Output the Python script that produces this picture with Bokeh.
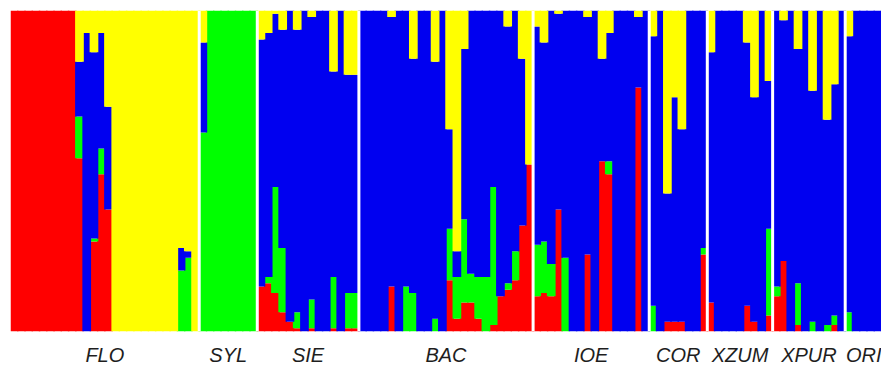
from bokeh.plotting import figure
from bokeh.models import Range1d, FixedTicker, ColumnDataSource
from bokeh.embed import file_html
from bokeh.resources import INLINE

# Populations and number of individuals in each
groups = ["FLO", "SYL", "SIE", "BAC", "IOE", "COR", "XZUM", "XPUR", "ORI"]
group_sizes = [26, 8, 14, 24, 16, 8, 9, 10, 6]

# Membership coefficients of each individual (clusters: red, green, blue, yellow)
red = [
    # FLO
    1, 1, 1, 1, 1, 1, 1, 1, 1, 0.54, 0, 0.28, 0.49, 0.38, 0, 0, 0, 0, 0, 0, 0, 0, 0, 0, 0, 0,
    # SYL
    0, 0, 0, 0, 0, 0, 0, 0,
    # SIE
    0.14, 0.15, 0.12, 0.06, 0.03, 0.01, 0, 0.01, 0, 0, 0.01, 0, 0.01, 0.01,
    # BAC
    0, 0, 0, 0, 0.14, 0, 0, 0, 0, 0, 0, 0, 0.16, 0.04, 0.09, 0.09, 0.04, 0, 0.02, 0.11, 0.13, 0.16, 0.33, 0.52,
    # IOE
    0.11, 0.12, 0.11, 0.38, 0, 0, 0, 0.24, 0, 0.53, 0.49, 0, 0, 0, 0.76, 0,
    # COR
    0, 0, 0.03, 0.03, 0.03, 0, 0, 0.24,
    # XZUM
    0.09, 0, 0, 0, 0, 0.08, 0.03, 0, 0.05,
    # XPUR
    0.11, 0.22, 0, 0.02, 0, 0, 0, 0, 0.02, 0,
    # ORI
    0, 0, 0, 0, 0, 0,
]
green = [
    # FLO
    0, 0, 0, 0, 0, 0, 0, 0, 0, 0.13, 0, 0.01, 0.08, 0, 0, 0, 0, 0, 0, 0, 0, 0, 0, 0.19, 0.23, 0,
    # SYL
    0.62, 1, 1, 1, 1, 1, 1, 1,
    # SIE
    0, 0.02, 0.33, 0.20, 0, 0.05, 0, 0.09, 0, 0, 0.16, 0, 0.11, 0.11,
    # BAC
    0, 0, 0, 0, 0, 0, 0.14, 0.12, 0, 0, 0.04, 0, 0.16, 0.13, 0.26, 0.09, 0.13, 0.17, 0.43, 0, 0.02, 0.09, 0, 0,
    # IOE
    0.16, 0.16, 0.10, 0, 0.23, 0, 0, 0, 0, 0, 0.04, 0, 0, 0, 0, 0,
    # COR
    0.08, 0, 0, 0, 0, 0, 0, 0.02,
    # XZUM
    0, 0, 0, 0, 0, 0, 0, 0, 0.27,
    # XPUR
    0.03, 0, 0, 0.13, 0, 0.03, 0, 0.02, 0.03, 0,
    # ORI
    0.06, 0, 0, 0, 0, 0,
]
blue = [
    # FLO
    0, 0, 0, 0, 0, 0, 0, 0, 0, 0.17, 0.93, 0.58, 0.36, 0.32, 0, 0, 0, 0, 0, 0, 0, 0, 0, 0.07, 0.02, 0,
    # SYL
    0.28, 0, 0, 0, 0, 0, 0, 0,
    # SIE
    0.77, 0.76, 0.54, 0.68, 0.97, 0.88, 1, 0.88, 1, 1, 0.64, 1, 0.68, 0.68,
    # BAC
    1, 1, 1, 1, 0.84, 1, 0.86, 0.73, 1, 1, 0.80, 1, 0.31, 0.08, 0.53, 0.82, 0.83, 0.83, 0.55, 0.89, 0.80, 0.75, 0.52, 0,
    # IOE
    0.68, 0.62, 0.79, 0.61, 0.77, 1, 1, 0.74, 1, 0.32, 0.40, 1, 1, 1, 0.22, 1,
    # COR
    0.84, 1, 0.40, 0.70, 0.60, 1, 1, 0.74,
    # XZUM
    0.78, 1, 1, 1, 1, 0.82, 0.70, 1, 0.46,
    # XPUR
    0.86, 0.75, 1, 0.73, 1, 0.72, 1, 0.64, 0.72, 1,
    # ORI
    0.86, 1, 1, 1, 1, 1,
]
yellow = [
    # FLO
    0, 0, 0, 0, 0, 0, 0, 0, 0, 0.16, 0.07, 0.13, 0.07, 0.30, 1, 1, 1, 1, 1, 1, 1, 1, 1, 0.74, 0.75, 1,
    # SYL
    0.10, 0, 0, 0, 0, 0, 0, 0,
    # SIE
    0.09, 0.07, 0.01, 0.06, 0, 0.06, 0, 0.02, 0, 0, 0.19, 0, 0.20, 0.20,
    # BAC
    0, 0, 0, 0, 0.02, 0, 0, 0.15, 0, 0, 0.16, 0, 0.37, 0.75, 0.12, 0, 0, 0, 0, 0, 0.05, 0, 0.15, 0.48,
    # IOE
    0.05, 0.10, 0, 0.01, 0, 0, 0, 0.02, 0, 0.15, 0.07, 0, 0, 0, 0.02, 0,
    # COR
    0.08, 0, 0.57, 0.27, 0.37, 0, 0, 0,
    # XZUM
    0.13, 0, 0, 0, 0, 0.10, 0.27, 0, 0.22,
    # XPUR
    0, 0.03, 0, 0.12, 0, 0.25, 0, 0.34, 0.23, 0,
    # ORI
    0.08, 0, 0, 0, 0, 0,
]

clusters = ["red", "green", "blue", "yellow"]
colors = ["#ff0000", "#00ff00", "#0000f0", "#ffff00"]

n = len(red)
source = ColumnDataSource(dict(
    x=[i + 0.5 for i in range(n)],
    red=red, green=green, blue=blue, yellow=yellow,
))

p = figure(width=881, height=368, output_backend="svg", toolbar_location=None,
           x_range=Range1d(0, 120), y_range=Range1d(0, 1),
           min_border_left=10, min_border_right=0, min_border_top=10, min_border_bottom=36)

p.vbar_stack(clusters, x="x", width=1.2, source=source,
             fill_color=colors, line_color=None)

# white separators between populations
bounds = []
acc = 0
for s in group_sizes[:-1]:
    acc += s
    bounds.append(acc)
p.segment(x0=bounds, x1=bounds, y0=[0] * len(bounds), y1=[1] * len(bounds),
          line_color="white", line_width=3)

# population labels centred under each block
centers = []
start = 0
for s in group_sizes:
    centers.append(start + s / 2)
    start += s

p.xaxis.ticker = FixedTicker(ticks=centers)
p.xaxis.major_label_overrides = {c: g for c, g in zip(centers, groups)}
p.xaxis.major_tick_line_color = None
p.xaxis.minor_tick_line_color = None
p.xaxis.major_tick_in = 0
p.xaxis.major_tick_out = 0
p.xaxis.axis_line_color = None
p.xaxis.major_label_standoff = 12
p.xaxis.major_label_text_line_height = 0.7
p.xaxis.major_label_text_font = "Liberation Sans"
p.xaxis.major_label_text_font_style = "italic"
p.xaxis.major_label_text_font_size = "20px"
p.xaxis.major_label_text_color = "#1e1e1e"
p.yaxis.visible = False
p.xgrid.visible = False
p.ygrid.visible = False
p.outline_line_color = None
p.background_fill_color = "white"
p.border_fill_color = "white"

open("out.html", "w").write(file_html(p, INLINE))
